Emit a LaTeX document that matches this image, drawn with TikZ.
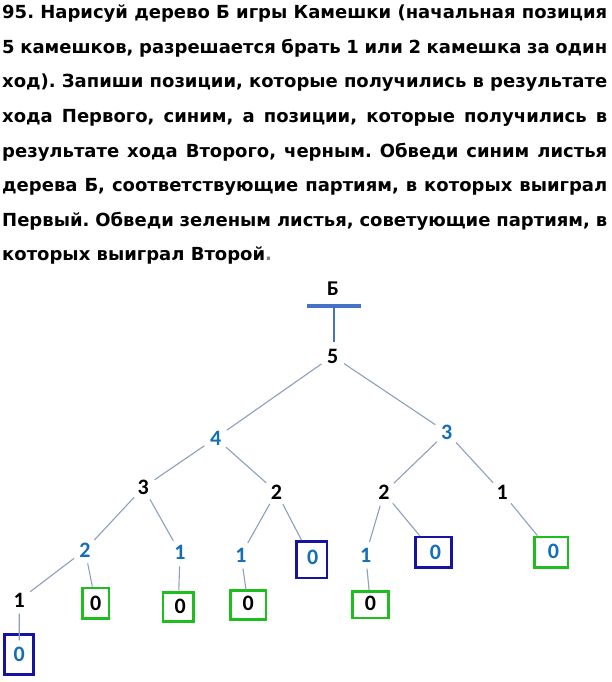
\documentclass[tikz,border=0pt]{standalone}
\usepackage{fontspec}
\setmainfont{DejaVu Sans}
\newfontfamily\numfont{Carlito}
\definecolor{numblue}{RGB}{20,110,185}
\definecolor{edgec}{RGB}{140,160,190}
\definecolor{barblue}{RGB}{68,114,196}
\definecolor{boxgreen}{RGB}{30,190,30}
\definecolor{boxblue}{RGB}{20,20,160}
\newcommand{\jline}[1]{\hbox to 605pt{#1}}
\frenchspacing
\begin{document}
\begin{tikzpicture}[x=1pt,y=-1pt,
  num/.style={circle, inner sep=0pt, minimum size=27pt, font=\numfont\bfseries\fontsize{22}{22}\selectfont},
  bnum/.style={num, text=numblue},
  knum/.style={num, text=black},
  leaf/.style={rectangle, line width=2.8pt, inner sep=0pt, font=\numfont\bfseries\fontsize{22}{22}\selectfont},
  gleaf/.style={leaf, draw=boxgreen},
  bleaf/.style={leaf, draw=boxblue},
  edge/.style={draw=edgec, line width=1.1pt},
  hline/.style={anchor=base west, inner sep=0pt, font=\frenchspacing\bfseries\fontsize{18}{18}\selectfont},
]
\useasboundingbox[fill=white] (0,0) rectangle (612,682);
% header text
\node[hline] (t1) at (2,19) {\jline{95. Нарисуй дерево Б игры Камешки (начальная позиция}};
\node[hline] (t2) at (2,53.5) {\jline{5 камешков, разрешается брать 1 или 2 камешка за один}};
\node[hline] (t3) at (2,88) {\jline{ход). Запиши позиции, которые получились в результате}};
\node[hline] (t4) at (2,122.5) {\jline{хода Первого, синим, а позиции, которые получились в}};
\node[hline] (t5) at (2,157) {\jline{результате хода Второго, черным. Обведи синим листья}};
\node[hline] (t6) at (2,191.5) {\jline{дерева Б, соответствующие партиям, в которых выиграл}};
\node[hline] (t7) at (2,226) {\jline{Первый. Обведи зеленым листья, советующие партиям, в}};
\node[hline] (t8) at (2,260.5) {которых выиграл Второй\textcolor{gray}{.}};
% root label and bar
\node[font=\numfont\bfseries\fontsize{21}{21}\selectfont, inner sep=0pt] (B) at (333,289) {Б};
\node[rectangle, fill=barblue, inner sep=0pt, minimum width=54pt, minimum height=3.5pt] (bar) at (334,306) {};
% number nodes
\node[knum] (n5) at (332.7,356) {5};
\node[bnum] (n4) at (215.7,438) {4};
\node[bnum] (n3R) at (446.7,432.3) {3};
\node[knum] (n3L) at (143.3,487.5) {3};
\node[knum] (n2a) at (276.5,492) {2};
\node[knum] (n2R) at (384,492.7) {2};
\node[knum] (n1R) at (502.3,492.7) {1};
\node[bnum] (n2b) at (85,550) {2};
\node[bnum] (n1a) at (180,552.7) {1};
\node[bnum] (n1b) at (241,555) {1};
\node[bnum] (n1c) at (365.7,555) {1};
\node[knum] (n1k) at (19.3,600) {1};
% leaves
\node[gleaf, minimum width=26.5pt, minimum height=30.5pt] (A) at (95.7,603.3) {0};
\node[bleaf, minimum width=28.9pt, minimum height=39.9pt, text=numblue] (Bx) at (19.2,654.7) {0};
\node[gleaf, minimum width=30.5pt, minimum height=29.2pt] (C) at (178.3,606.7) {\hspace{4pt}0};
\node[gleaf, minimum width=35.5pt, minimum height=28.6pt] (D) at (248.2,605) {\raisebox{3pt}{0}};
\node[bleaf, minimum width=30.5pt, minimum height=36.5pt, text=numblue] (E) at (311.7,559.7) {\hspace{2pt}\raisebox{4pt}{0}};
\node[gleaf, minimum width=36.2pt, minimum height=26.5pt] (F) at (370.5,604.7) {\raisebox{3pt}{0}};
\node[bleaf, minimum width=35.6pt, minimum height=30.5pt, text=numblue] (G) at (433.5,552.3) {\hspace{4pt}0};
\node[gleaf, minimum width=33.8pt, minimum height=30.5pt, text=numblue] (H) at (551,552.3) {\hspace{5pt}\raisebox{2pt}{0}};
% connectors
\draw[barblue, line width=1.5pt] (bar.south) -- (bar.south |- n5.north);
\draw[edge] (n5) -- (n4);
\draw[edge] (n5) -- (n3R);
\draw[edge] (n4) -- (n3L);
\draw[edge] (n4) -- (n2a);
\draw[edge] (n3R) -- (n2R);
\draw[edge] (n3R) -- (n1R);
\draw[edge] (n3L) -- (n2b);
\draw[edge] (n3L) -- (n1a);
\draw[edge] (n2a) -- (n1b);
\draw[edge] (n2a) -- (E);
\draw[edge] (n2R) -- (n1c);
\draw[edge] (n2R) -- (G);
\draw[edge] (n1R) -- (H);
\draw[edge] (n2b) -- (n1k);
\draw[edge] (n2b) -- (A);
\draw[edge] (n1k) -- ([yshift=-7pt]Bx.north);
\draw[edge] (n1a) -- (C);
\draw[edge] (n1b) -- (D);
\draw[edge] (n1c) -- (F);
\end{tikzpicture}
\end{document}
